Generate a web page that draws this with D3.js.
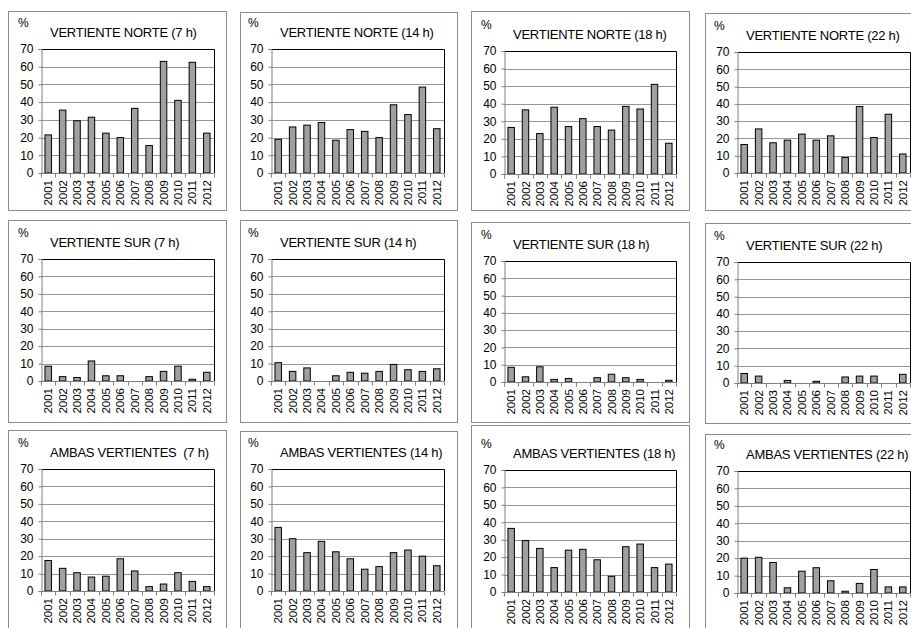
<!DOCTYPE html>
<html>
<head>
<meta charset="utf-8">
<script src="https://cdn.jsdelivr.net/npm/d3@7"></script>
<style>
  html, body { margin: 0; padding: 0; background: #fff; overflow: hidden; }
  svg { display: block; font-family: "Liberation Sans", Arial, sans-serif; }
</style>
</head>
<body>
<svg id="chart" width="911" height="628"></svg>
<script>
// ---- data ----
const years = ["2001","2002","2003","2004","2005","2006","2007","2008","2009","2010","2011","2012"];
const yTicks = [0, 10, 20, 30, 40, 50, 60, 70];
const titles = [
  "VERTIENTE NORTE (7 h)", "VERTIENTE NORTE (14 h)", "VERTIENTE NORTE (18 h)", "VERTIENTE NORTE (22 h)",
  "VERTIENTE SUR (7 h)", "VERTIENTE SUR (14 h)", "VERTIENTE SUR (18 h)", "VERTIENTE SUR (22 h)",
  "AMBAS VERTIENTES  (7 h)", "AMBAS VERTIENTES (14 h)", "AMBAS VERTIENTES (18 h)", "AMBAS VERTIENTES (22 h)"
];
const norte7  = [21.5, 35.5, 29.5, 31.5, 22.5, 20, 36.5, 15.5, 63, 41, 62.5, 22.5];
const norte14 = [19, 26, 27, 28.5, 18.5, 24.5, 23.5, 20, 38.5, 33, 48.5, 25];
const norte18 = [26.5, 36.5, 23, 38, 27, 31.5, 27, 25, 38.5, 37, 51, 17.5];
const norte22 = [16.5, 25.5, 17.5, 19, 22.5, 19, 21.5, 9, 38.5, 20.5, 34, 11];
const sur7    = [8.5, 2.5, 2, 11.5, 3, 3, 0, 2.5, 5.5, 8.5, 1, 5];
const sur14   = [10.5, 5.5, 7.5, 0, 3, 5, 4.5, 5.5, 9.5, 6.5, 5.5, 7];
const sur18   = [8.5, 3, 8.8, 1.5, 2, 0, 2.5, 4.5, 2.5, 1.5, 0, 1];
const sur22   = [5.5, 4, 0, 1.5, 0, 1, 0, 3.5, 4, 4, 0, 5];
const ambas7  = [17.5, 13, 10.5, 8, 8.5, 18.5, 11.5, 2.5, 4, 10.5, 5.5, 2.5];
const ambas14 = [36.5, 30, 22, 28.5, 22.5, 18.5, 12.5, 14, 22, 23.5, 20, 14.5];
const ambas18 = [36.5, 29.5, 25, 14, 24, 24.5, 18.5, 9, 26, 27.5, 14, 16];
const ambas22 = [20, 20.5, 17.5, 3, 12.5, 14.5, 7, 1, 5.5, 13.5, 3.5, 3.5];
const series = [norte7, norte14, norte18, norte22, sur7, sur14, sur18, sur22, ambas7, ambas14, ambas18, ambas22];

// ---- layout (panel frames) ----
// [boxX, boxY, boxW, boxH, plotL, plotT, plotR, plotB]
const layout = [
  [8, 11, 218, 199, 41, 49, 214, 173],
  [240, 12, 217, 198, 271, 49, 444, 173],
  [471, 11, 218, 199, 504, 51, 676, 174],
  [705, 13, 230, 197, 737, 52, 910, 173],
  [8, 220, 218, 202, 41, 259, 214, 381],
  [240, 220, 217, 202, 271, 259, 444, 381],
  [471, 222, 218, 200, 504, 261, 676, 382],
  [705, 223, 230, 200, 737, 262, 910, 383],
  [8, 430, 218, 220, 41, 469, 214, 591],
  [240, 431, 217, 220, 271, 469, 444, 591],
  [471, 425, 218, 220, 504, 470, 676, 592],
  [705, 434, 230, 220, 737, 471, 910, 593]
];

const svg = d3.select("#chart");
svg.append("rect").attr("width", 911).attr("height", 628).attr("fill", "#fff");

series.forEach((vals, i) => {
  const [bx, by, bw, bh, pl, pt, pr, pb] = layout[i];
  const g = svg.append("g");

  // outer chart box
  g.append("rect")
    .attr("x", bx + 0.5).attr("y", by + 0.5)
    .attr("width", bw).attr("height", bh)
    .attr("fill", "#fff").attr("stroke", "#8c8c8c").attr("stroke-width", 1);

  const x = d3.scaleBand().domain(years).range([pl, pr]).paddingInner(0.55).paddingOuter(0.275);
  const y = d3.scaleLinear().domain([0, 70]).range([pb, pt]);

  // gridlines
  g.selectAll("line.grid").data(yTicks.filter(t => t > 0 && t < 70)).enter().append("line")
    .attr("x1", pl).attr("x2", pr)
    .attr("y1", d => Math.round(y(d)) + 0.5).attr("y2", d => Math.round(y(d)) + 0.5)
    .attr("stroke", "#969696").attr("stroke-width", 1);

  // plot border (top and right)
  g.append("path")
    .attr("d", `M${pl},${Math.round(pt) + 0.5}H${Math.round(pr) + 0.5}V${pb}`)
    .attr("fill", "none").attr("stroke", "#000").attr("stroke-width", 1);

  // bars
  g.selectAll("rect.bar").data(vals).enter().append("rect")
    .attr("x", (d, j) => x(years[j]))
    .attr("width", x.bandwidth())
    .attr("y", d => y(d))
    .attr("height", d => y(0) - y(d))
    .attr("fill", d => d > 0 ? "#a0a0a0" : "none")
    .attr("stroke", d => d > 0 ? "#000" : "none")
    .attr("stroke-width", 1);

  // y axis
  const yAxis = d3.axisLeft(y).tickValues(yTicks).tickSize(3).tickPadding(5);
  const ya = g.append("g").attr("transform", `translate(${Math.round(pl) + 0.5},0)`).call(yAxis);
  ya.select(".domain").attr("stroke", "#808080");
  ya.selectAll(".tick line").attr("stroke", "#808080");
  ya.selectAll(".tick text").attr("font-size", 12).attr("fill", "#000")
    .attr("font-family", "Liberation Sans, Arial, sans-serif");

  // x axis (category boundary ticks)
  const step = x.step();
  const bounds = d3.range(years.length + 1).map(k => pl + k * step);
  g.append("line")
    .attr("x1", pl).attr("x2", pr)
    .attr("y1", Math.round(pb) + 0.5).attr("y2", Math.round(pb) + 0.5)
    .attr("stroke", "#808080");
  g.selectAll("line.xt").data(bounds).enter().append("line")
    .attr("x1", d => Math.round(d) + 0.5).attr("x2", d => Math.round(d) + 0.5)
    .attr("y1", Math.round(pb) + 0.5).attr("y2", Math.round(pb) + 4.5)
    .attr("stroke", "#808080");

  g.selectAll("text.yr").data(years).enter().append("text")
    .attr("transform", d => `translate(${x(d) + x.bandwidth() / 2 + 4},${pb + 7}) rotate(-90)`)
    .attr("text-anchor", "end")
    .attr("font-size", 11.5)
    .attr("fill", "#000")
    .text(d => d);

  // title and unit
  g.append("text")
    .attr("x", pl + 9).attr("y", pt - 12)
    .attr("font-size", 13).attr("fill", "#000")
    .attr("letter-spacing", -0.25)
    .style("white-space", "pre")
    .text(titles[i]);
  g.append("text")
    .attr("x", pl - 23).attr("y", pt - 22)
    .attr("font-size", 12).attr("fill", "#000")
    .text("%");
});
</script>
</body>
</html>
